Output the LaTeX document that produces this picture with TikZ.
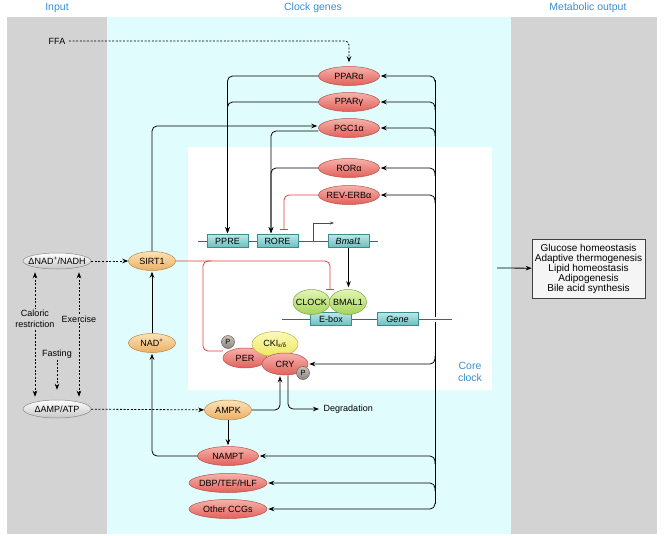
\documentclass[tikz,border=0pt]{standalone}
\usepackage{fontspec}
\setmainfont{Liberation Sans}
\usetikzlibrary{arrows.meta,shapes.geometric,positioning,calc}

\definecolor{panelgray}{HTML}{D3D3D3}
\definecolor{clockcyan}{HTML}{E0FCFD}
\definecolor{headblue}{HTML}{3A8DD2}
\definecolor{inhibred}{HTML}{D9423D}
\definecolor{dnateal}{HTML}{2C6C78}
\definecolor{redrim}{HTML}{B5504A}
\definecolor{redtop}{HTML}{F6B2AB}
\definecolor{redbot}{HTML}{E2605A}
\definecolor{orangerim}{HTML}{B9884A}
\definecolor{orangetop}{HTML}{FCE3B8}
\definecolor{orangebot}{HTML}{EBAE63}
\definecolor{greenrim}{HTML}{7FA546}
\definecolor{greentop}{HTML}{E2F5B5}
\definecolor{greenbot}{HTML}{A6D35A}
\definecolor{yellowrim}{HTML}{B8B34A}
\definecolor{yellowtop}{HTML}{FBFAB8}
\definecolor{yellowbot}{HTML}{EDE860}
\definecolor{pearlrim}{HTML}{8A8A8A}
\definecolor{pearlbot}{HTML}{C6C6C6}
\definecolor{phosrim}{HTML}{6E655E}
\definecolor{phostop}{HTML}{C9C2BA}
\definecolor{phosbot}{HTML}{8E857C}
\definecolor{tealrim}{HTML}{3C8C8E}
\definecolor{tealtop}{HTML}{B9E8E8}
\definecolor{tealbot}{HTML}{6CBDBE}

\begin{document}
\begin{tikzpicture}[x=1pt,y=-1pt,>={Stealth[length=6pt,width=4.5pt]},line width=0.8pt,
    font=\fontsize{9}{10.5}\selectfont,
    heading/.style={text=headblue,font=\fontsize{10.5}{12}\selectfont},
    egg/.style={ellipse,inner xsep=-8pt,inner ysep=0pt,minimum height=19pt,line width=0.5pt},
    clockgene/.style={egg,minimum width=61pt,draw=redrim,top color=redtop,bottom color=redbot},
    wide/.style={minimum width=78pt},
    sensor/.style={egg,minimum width=47pt,draw=orangerim,top color=orangetop,bottom color=orangebot},
    ratio/.style={egg,minimum width=68pt,minimum height=16pt,draw=pearlrim,top color=white,bottom color=pearlbot},
    partner/.style={egg,minimum width=37pt,minimum height=25pt,draw=greenrim,top color=greentop,bottom color=greenbot},
    kinase/.style={egg,minimum width=46pt,minimum height=25pt,draw=yellowrim,top color=yellowtop,bottom color=yellowbot},
    phos/.style={circle,inner sep=0pt,minimum size=13pt,line width=0.5pt,draw=phosrim,top color=phostop,bottom color=phosbot,font=\fontsize{7.5}{8}\selectfont},
    element/.style={rectangle,inner sep=0pt,minimum width=41pt,minimum height=13pt,line width=0.5pt,draw=tealrim,top color=tealtop,bottom color=tealbot},
    dna/.style={draw=dnateal,line width=1pt},
    link/.style={->,rounded corners=5pt,shorten >=1pt},
    signal/.style={->,dash pattern=on 2pt off 1.6pt},
    repress/.style={-{Bar[width=8pt]},draw=inhibred,rounded corners=5pt},
    note/.style={align=center,inner sep=1pt}]

    % panels
    \useasboundingbox (0,0) rectangle (665,536);
    \fill[panelgray] (7,17) rectangle (107,534);
    \fill[clockcyan] (107,17) rectangle (511,534);
    \fill[panelgray] (511,17) rectangle (657,534);
    \fill[white] (188,147) rectangle (492,390);

    \node[heading] (hinput) at (57,8) {Input};
    \node[heading] (hclock) at (313,8) {Clock genes};
    \node[heading] (hout) at (588,8) {Metabolic output};
    \node[heading,align=center] (hcore) at (470,372) {Core\\clock};

    % bus and DNA
    \coordinate (bustop) at (435,80);
    \coordinate (busbot) at (435,504);
    \draw (bustop) -- (busbot);

    \coordinate (dna1a) at (198,241);
    \coordinate (dna1b) at (378,241);
    \coordinate (dna2a) at (282,319);
    \coordinate (dna2b) at (452,319);
    \draw[dna] (dna1a) -- (dna1b);
    \draw[dna,preaction={draw=white,line width=5pt}] (dna2a) -- (dna2b);

    \coordinate (tss) at (313,241);
    \draw[-{Stealth[length=4pt,width=3pt]},line width=0.5pt,draw=black!70] (tss) -- ++(0,-18) -- ++(21,0);

    % clock-controlled genes
    \node[clockgene] (ppara) at (349,76) {PPARα};
    \node[clockgene] (pparg) at (349,102) {PPARγ};
    \node[clockgene] (pgc) at (349,128) {PGC1α};
    \node[clockgene] (rora) at (349,168) {RORα};
    \node[clockgene] (reverb) at (349,195) {REV-ERBα};
    \node[clockgene] (nampt) at (228,456) {NAMPT};
    \node[clockgene,wide] (dbp) at (228,483) {DBP/TEF/HLF};
    \node[clockgene,wide] (other) at (228,509) {Other CCGs};

    \node[element] (ppre) at (227.5,241) {PPRE};
    \node[element] (rore) at (277.5,241) {RORE};
    \node[element] (bmalg) at (348.5,241) {\itshape Bmal1};
    \node[element] (ebox) at (331,319) {E-box};
    \node[element] (geneb) at (397.5,319) {\itshape Gene};

    \node[partner] (clock) at (311.5,302) {CLOCK};
    \node[partner] (bmal) at (348,302) {BMAL1};

    \node[clockgene,minimum width=44pt,minimum height=20pt] (per) at (245,358) {PER};
    \node[kinase] (cki) at (275,344) {CKI\textsubscript{ε/δ}};
    \node[clockgene,minimum width=46pt,minimum height=22pt] (cry) at (285,364) {CRY};
    \node[phos] (pper) at (228,342) {P};
    \node[phos] (pcry) at (303,373) {P};

    % sensors
    \node[sensor] (sirt1) at (152,261) {SIRT1};
    \node[sensor] (nadp) at (152,343) {NAD\textsuperscript{+}};
    \node[sensor,minimum height=20pt] (ampk) at (228,410) {AMPK};
    \node[ratio] (nadh) at (57,261) {ΔNAD\textsuperscript{+}/NADH};
    \node[ratio,minimum height=18pt] (amp) at (57,409) {ΔAMP/ATP};
    \node (ffa) at (57,41) {FFA};
    \node[anchor=west] (degr) at (320,409) {Degradation};
    \node[draw=black!75,fill=black!4,line width=0.6pt,minimum width=113pt,minimum height=59pt,
        align=center,inner sep=0pt,font=\fontsize{10}{10}\selectfont] (output) at (588.5,268.5)
        {Glucose homeostasis\\Adaptive thermogenesis\\Lipid homeostasis\\Adipogenesis\\Bile acid synthesis};

    % clock output to genes
    \draw[link] ($(ppara.east -| bustop)+(0,6)$) |- (ppara.east);
    \foreach \g in {pparg,pgc,rora,reverb,nampt,dbp}
        \draw[link] ($(\g.east -| bustop)+(0,8)$) |- (\g.east);
    \draw[link] ($(cry.east -| bustop)+(0,-8)$) |- (cry.east);
    \draw[link] ($(other.east -| busbot)+(0,-6)$) |- (other.east);

    \draw[link] (ppara.west) -| (ppre.north);
    \draw[link] (pparg.west) -| (ppre.north);
    \draw[link] ([yshift=-3pt]pgc.west) -| ([xshift=-6.5pt]rore.north);
    \draw[link] (rora.west) -| ([xshift=-6.5pt]rore.north);
    \draw[repress,shorten >=4pt] (reverb.west) -| ([xshift=6.5pt]rore.north);
    \draw[link,shorten >=2pt] (bmalg.south) -- (bmalg.south |- bmal.north);

    % SIRT1 branch
    \coordinate (notch) at (330,290);
    \coordinate (redjoin) at (203,261);
    \draw[link] (sirt1) |- ([yshift=2pt]pgc.west);
    \draw[repress] (sirt1.east) -| (notch);
    \draw[inhibred,rounded corners=5pt] ([yshift=7pt]per.west) -| (redjoin) -- ++(8,0);

    % inputs
    \draw[signal,rounded corners=4pt,shorten >=4pt] (ffa) -| (ppara);
    \draw[signal] (nadh) -- (sirt1);
    \draw[signal] (amp) -- (ampk);
    \draw[signal,<->,shorten <=3pt,shorten >=3pt] ([xshift=-22pt]nadh.south) -- ([xshift=-22pt]amp.north);
    \draw[signal,<->,shorten <=3pt,shorten >=3pt] ([xshift=22pt]nadh.south) -- ([xshift=22pt]amp.north);
    \node[note,fill=panelgray] (caloric) at (35,319) {Caloric\\restriction};
    \node[note,fill=panelgray] (exercise) at (79,319) {Exercise};
    \node[note] (fasting) at (57,354) {Fasting};
    \draw[signal,shorten >=10pt] (fasting) -- (amp);

    \draw[link] (nadp) -- (sirt1);
    \draw[link] (nampt.west) -| (nadp.south);
    \draw[link] (ampk) -- (nampt);
    \draw[link] (ampk.east) -| ([xshift=-5pt]cry.south);
    \draw[link] ([xshift=3pt]cry.south) |- (degr.west);

    % metabolic output
    \coordinate (outfrom) at (497,268);
    \draw[->] (outfrom) -- (output);

\end{tikzpicture}
\end{document}
